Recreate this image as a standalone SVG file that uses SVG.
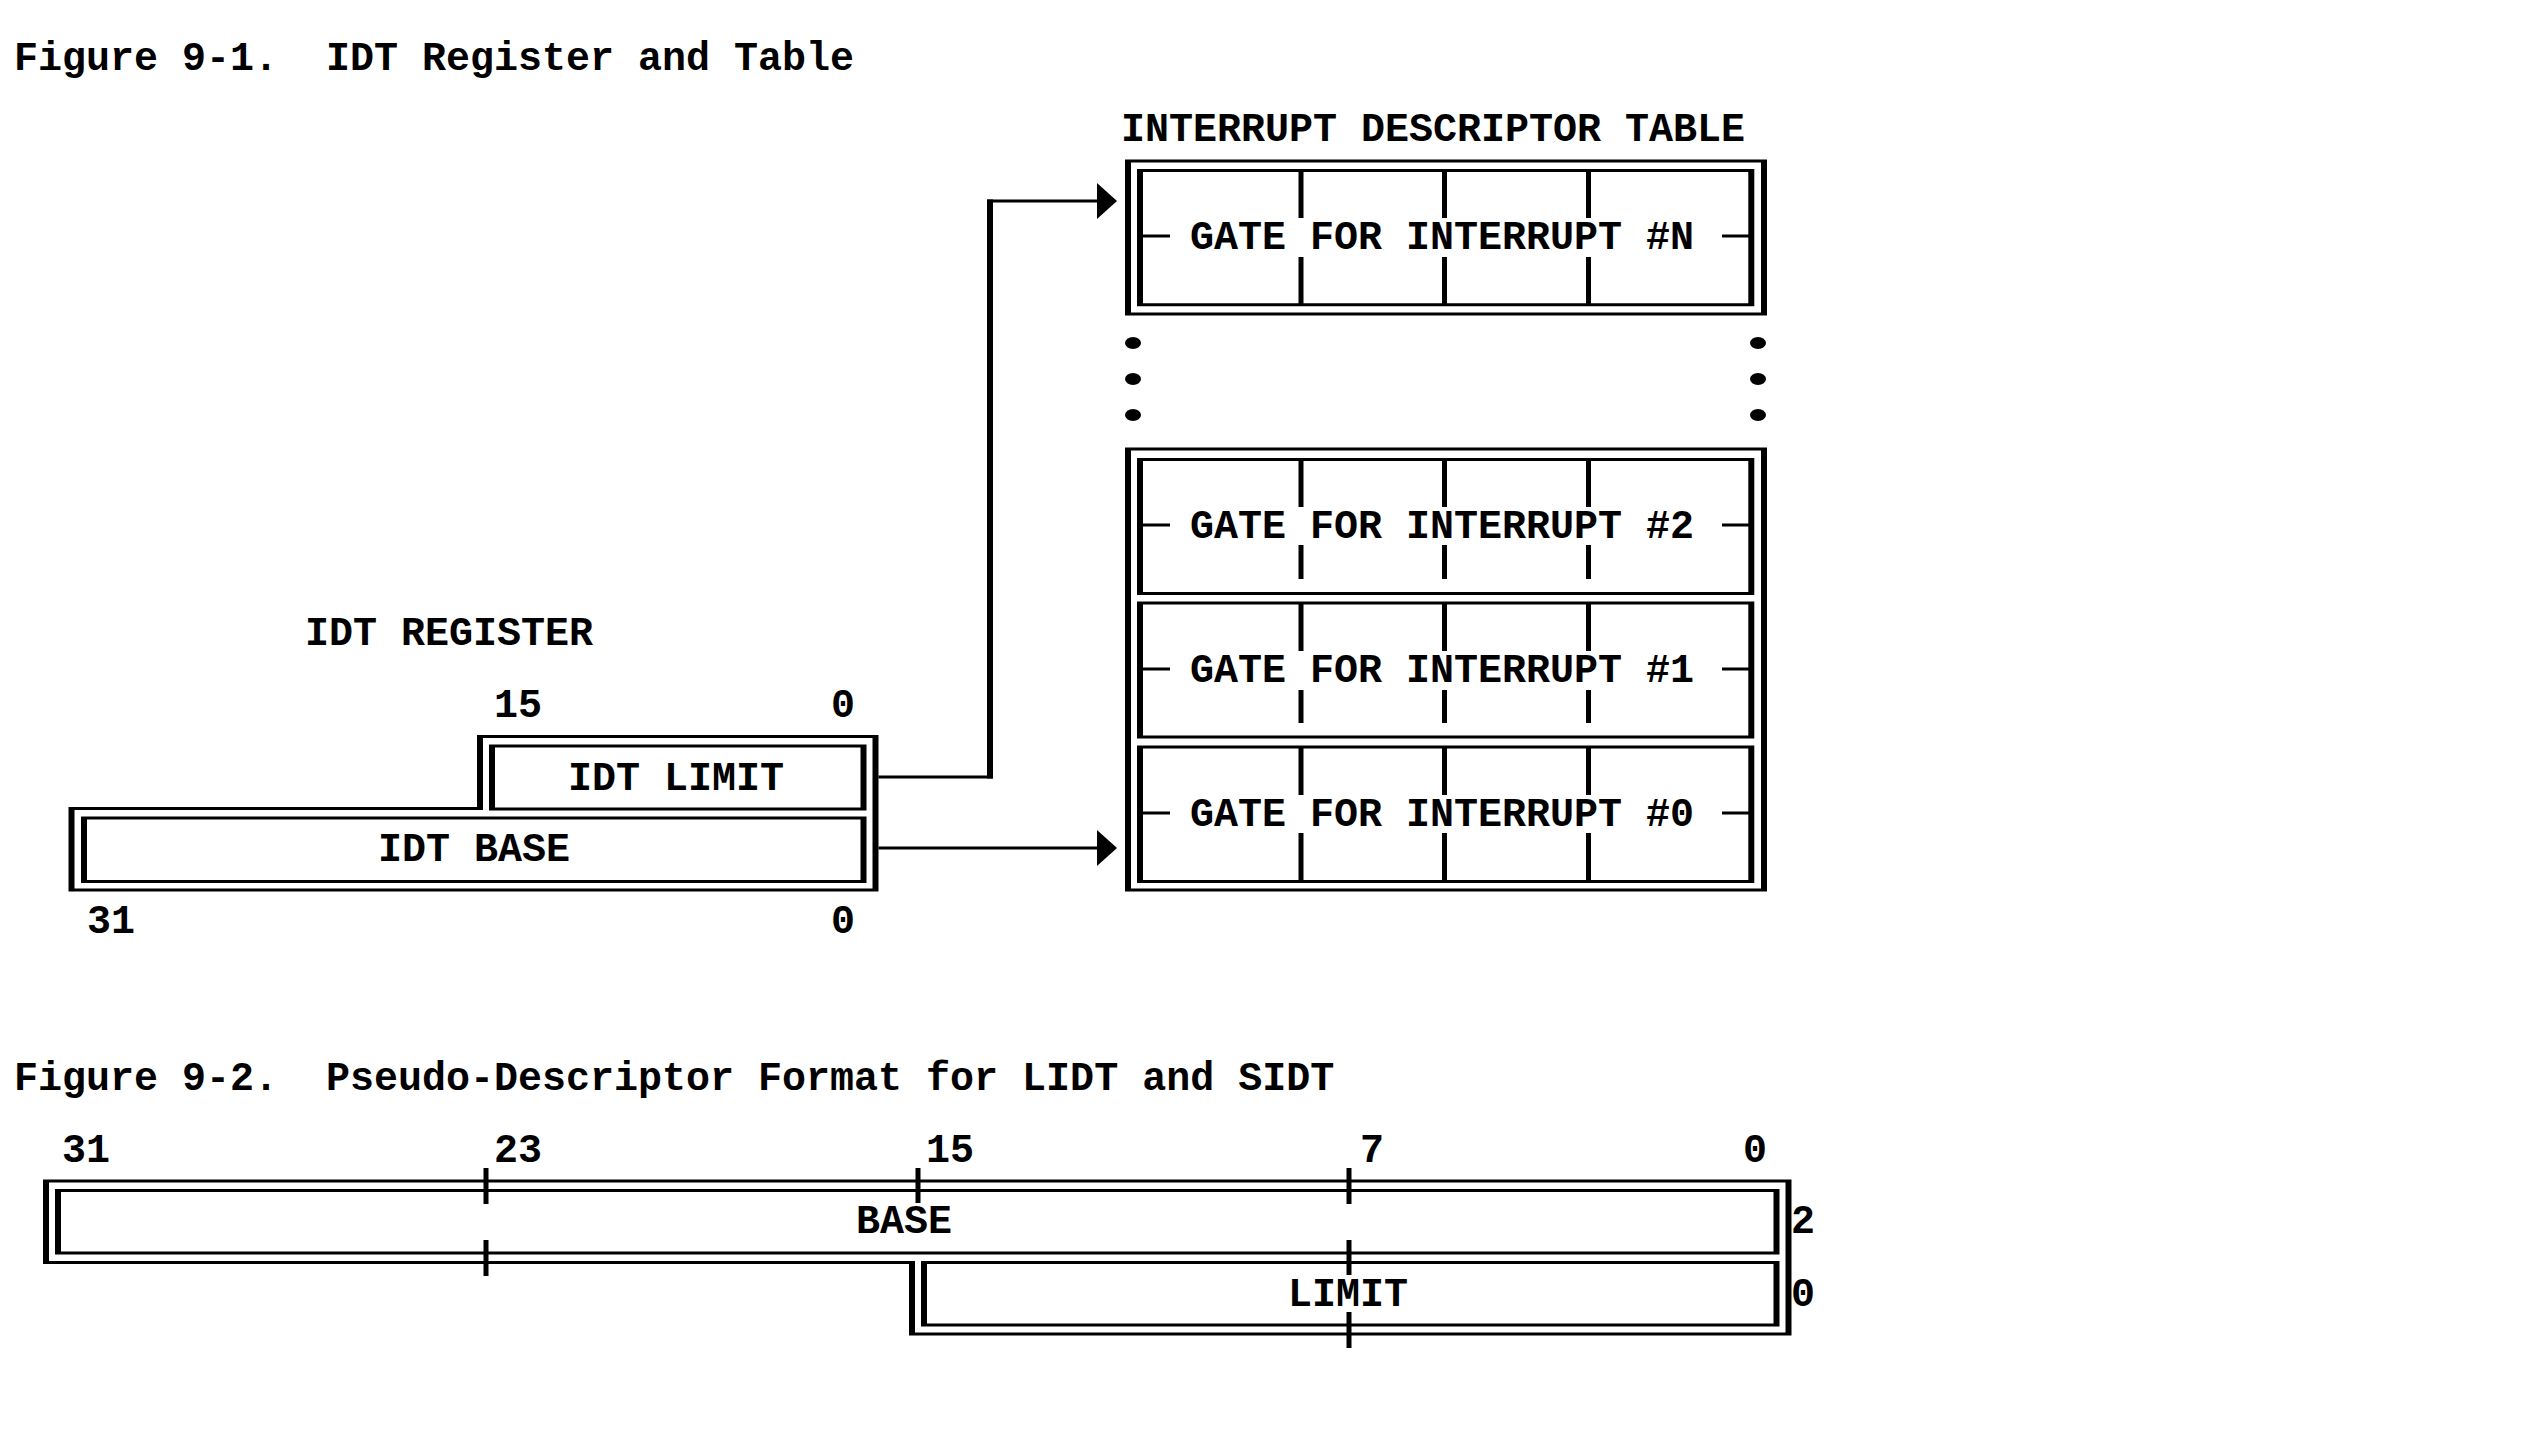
<svg xmlns="http://www.w3.org/2000/svg" width="2548" height="1430" viewBox="0 0 2548 1430">
<defs>
<style>
text{font-family:"Liberation Mono","DejaVu Sans Mono",monospace;font-weight:bold;font-size:40px;fill:#000;white-space:pre}
.ring{fill:#000;fill-rule:evenodd;stroke:none}
.v{stroke:#000;stroke-width:6;fill:none}
.h{stroke:#000;stroke-width:3;fill:none}
.tk{stroke:#000;stroke-width:5;fill:none}
.dot{fill:#000}
</style>
<marker id="arr" markerUnits="userSpaceOnUse" viewBox="0 0 20 36" refX="0" refY="18" markerWidth="20" markerHeight="36" orient="auto">
<path d="M0,0 L20,18 L0,36 Z" fill="#000"/>
</marker>
</defs>
<rect x="0" y="0" width="2548" height="1430" fill="#fff"/>

<text x="14" y="70">Figure 9-1.<tspan x="326">IDT Register and Table</tspan></text>

<g id="idt-table">
<text x="1121" y="141">INTERRUPT DESCRIPTOR TABLE</text>
<g id="gate-n">
<path class="ring" d="M1125,159.5H1767V315.5H1125Z M1131,162.5H1761V312.5H1131Z"/>
<path class="ring" d="M1137,169H1754.3V306.2H1137Z M1143,172H1748.3V303.2H1143Z"/>
<path class="tk" d="M1301,170V218 M1301,257V305 M1444.5,170V218 M1444.5,257V305 M1588.5,170V218 M1588.5,257V305"/>
<path class="h" d="M1140,236H1170 M1722,236H1751"/>
<text x="1190" y="249">GATE FOR INTERRUPT #N</text>
</g>
<g id="ellipsis">
<ellipse class="dot" cx="1133" cy="343" rx="8" ry="6"/>
<ellipse class="dot" cx="1133" cy="379" rx="8" ry="6"/>
<ellipse class="dot" cx="1133" cy="415" rx="8" ry="6"/>
<ellipse class="dot" cx="1758" cy="343" rx="8" ry="6"/>
<ellipse class="dot" cx="1758" cy="379" rx="8" ry="6"/>
<ellipse class="dot" cx="1758" cy="415" rx="8" ry="6"/>
</g>
<path class="ring" d="M1125,447.5H1767V891.5H1125Z M1131,450.5H1761V888.5H1131Z"/>
<g id="gate-2">
<path class="ring" d="M1137,458H1754.3V595H1137Z M1143,461H1748.3V592H1143Z"/>
<path class="tk" d="M1301,459V507 M1301,545V579 M1444.5,459V507 M1444.5,545V579 M1588.5,459V507 M1588.5,545V579"/>
<path class="h" d="M1140,525H1170 M1722,525H1751"/>
<text x="1190" y="538">GATE FOR INTERRUPT #2</text>
</g>
<g id="gate-1">
<path class="ring" d="M1137,601.5H1754.3V738.5H1137Z M1143,604.5H1748.3V735.5H1143Z"/>
<path class="tk" d="M1301,603V651 M1301,690V723 M1444.5,603V651 M1444.5,690V723 M1588.5,603V651 M1588.5,690V723"/>
<path class="h" d="M1140,669H1170 M1722,669H1751"/>
<text x="1190" y="682">GATE FOR INTERRUPT #1</text>
</g>
<g id="gate-0">
<path class="ring" d="M1137,745.5H1754.3V883H1137Z M1143,748.5H1748.3V880H1143Z"/>
<path class="tk" d="M1301,747V795 M1301,833V882 M1444.5,747V795 M1444.5,833V882 M1588.5,747V795 M1588.5,833V882"/>
<path class="h" d="M1140,813H1170 M1722,813H1751"/>
<text x="1190" y="826">GATE FOR INTERRUPT #0</text>
</g>
</g>

<g id="idt-register">
<text x="305" y="645">IDT REGISTER</text>
<text x="494" y="717">15</text>
<text x="831" y="717">0</text>
<path class="ring" d="M68.5,891.5V807H477V735H878.5V891.5Z M74.5,888.5V810H483V738H872.5V888.5Z"/>
<g id="idt-limit">
<path class="ring" d="M489,744.5H866.5V810.5H489Z M495,747.5H860.5V807.5H495Z"/>
<text x="568" y="790">IDT LIMIT</text>
</g>
<g id="idt-base">
<path class="ring" d="M81,816.5H866.5V883H81Z M87,819.5H860.5V880H87Z"/>
<text x="378" y="861">IDT BASE</text>
</g>
<text x="87" y="933">31</text>
<text x="831" y="933">0</text>
</g>

<g id="connectors">
<path class="h" d="M878.5,777H993"/>
<path class="v" d="M990,778.5V199.5"/>
<path class="h" d="M987,201H1097" marker-end="url(#arr)"/>
<path class="h" d="M878.5,848H1097" marker-end="url(#arr)"/>
</g>

<text x="14" y="1090">Figure 9-2.<tspan x="326">Pseudo-Descriptor Format for LIDT and SIDT</tspan></text>

<g id="pseudo-descriptor">
<text x="62" y="1162">31</text>
<text x="494" y="1162">23</text>
<text x="926" y="1162">15</text>
<text x="1360" y="1162">7</text>
<text x="1743" y="1162">0</text>
<path class="ring" d="M43,1179.5H1791.5V1335.5H909V1264H43Z M49,1182.5H1785.5V1332.5H915V1261H49Z"/>
<g id="pd-base">
<path class="ring" d="M55,1189H1779.5V1254.5H55Z M61,1192H1773.5V1251.5H61Z"/>
<text x="856" y="1233">BASE</text>
</g>
<g id="pd-limit">
<path class="ring" d="M921,1261H1779.5V1326.5H921Z M927,1264H1773.5V1323.5H927Z"/>
<text x="1288" y="1306">LIMIT</text>
</g>
<path class="tk" d="M486,1168V1204 M486,1240V1276 M918,1168V1203 M1349,1168V1204 M1349,1240V1275 M1349,1312V1348"/>
<text x="1791" y="1233">2</text>
<text x="1791" y="1306">0</text>
</g>
</svg>
